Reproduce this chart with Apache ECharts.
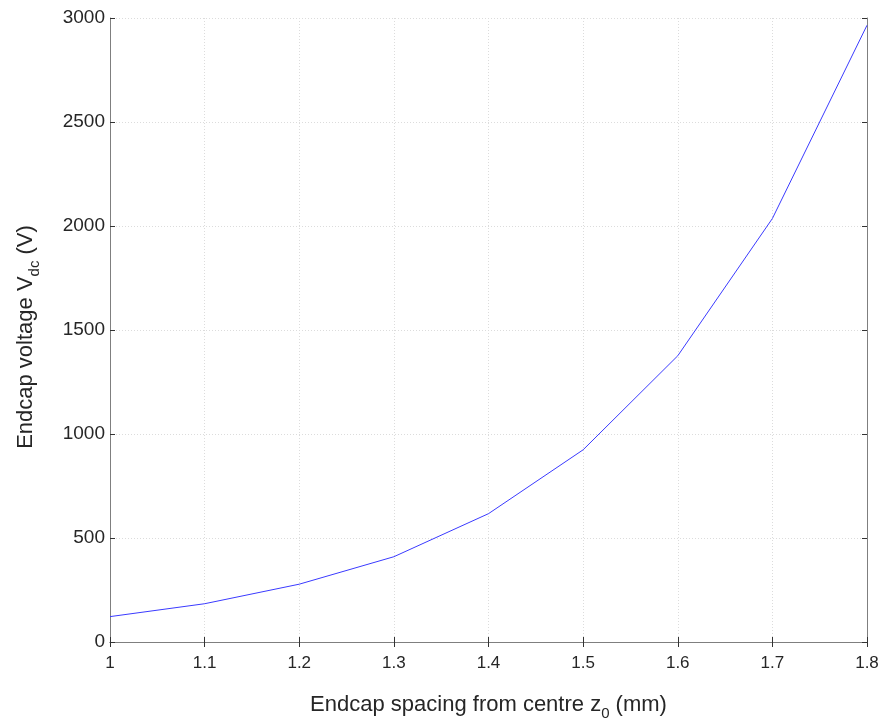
<!DOCTYPE html>
<html><head><meta charset="utf-8">
<script src="https://cdn.jsdelivr.net/npm/echarts@6/dist/echarts.min.js"></script>
<style>html,body{margin:0;padding:0;background:#fff}#c{width:883px;height:726px}</style>
</head><body><div id="c"></div>
<script>
const spacing = [1.0, 1.1, 1.2, 1.3, 1.4, 1.5, 1.6, 1.7, 1.8];
const voltage = [122, 184, 278, 410, 617, 924, 1376, 2036, 2965];
const xTicks = {min: 1, max: 1.8, interval: 0.1};
const yTicks = {min: 0, max: 3000, interval: 500};

const chart = echarts.init(document.getElementById('c'));
const font = 'Liberation Sans, Arial, sans-serif';
const axisLine = {show: true, lineStyle: {color: '#7f7f7f', width: 1}};
const tick = {show: true, inside: true, length: 5, lineStyle: {color: '#333'}};
const grid = {show: true, lineStyle: {color: '#dcdcdc', type: [1, 2], width: 1}};
chart.setOption({
  animation: false,
  grid: {left: 110, right: 16, top: 18, bottom: 77},
  xAxis: [{
    type: 'value', min: xTicks.min, max: xTicks.max, interval: xTicks.interval,
    axisLine, axisTick: tick, splitLine: grid,
    axisLabel: {color: '#262626', fontSize: 17, fontFamily: font, margin: 13,
      formatter: v => String(Math.round(v * 10) / 10)},
    name: '{a|Endcap spacing from centre z}{s|0}{a| (mm)}',
    nameLocation: 'middle', nameGap: 46,
    nameTextStyle: {rich: {
      a: {fontSize: 22, fontFamily: font, color: '#262626'},
      s: {fontSize: 15, fontFamily: font, color: '#262626', padding: [18, 0, 0, 0]}
    }}
  }, {
    type: 'value', position: 'top', min: xTicks.min, max: xTicks.max, interval: xTicks.interval,
    axisLine, axisTick: tick, splitLine: {show: false}, axisLabel: {show: false}
  }],
  yAxis: [{
    type: 'value', min: yTicks.min, max: yTicks.max, interval: yTicks.interval,
    axisLine, axisTick: tick, splitLine: grid,
    axisLabel: {color: '#262626', fontSize: 19, fontFamily: font, margin: 5,
      formatter: v => String(v)},
    name: '{a|Endcap voltage V}{s|dc}{a| (V)}',
    nameLocation: 'middle', nameGap: 68, nameRotate: 90,
    nameTextStyle: {padding: [0, 14, 0, 0], rich: {
      a: {fontSize: 22, fontFamily: font, color: '#262626'},
      s: {fontSize: 15, fontFamily: font, color: '#262626', padding: [18, 0, 0, 0]}
    }}
  }, {
    type: 'value', position: 'right', min: yTicks.min, max: yTicks.max, interval: yTicks.interval,
    axisLine, axisTick: tick, splitLine: {show: false}, axisLabel: {show: false}
  }],
  series: [{
    type: 'line', data: spacing.map((x, i) => [x, voltage[i]]),
    showSymbol: false, lineStyle: {color: '#3a3aff', width: 1}
  }]
});
</script></body></html>
